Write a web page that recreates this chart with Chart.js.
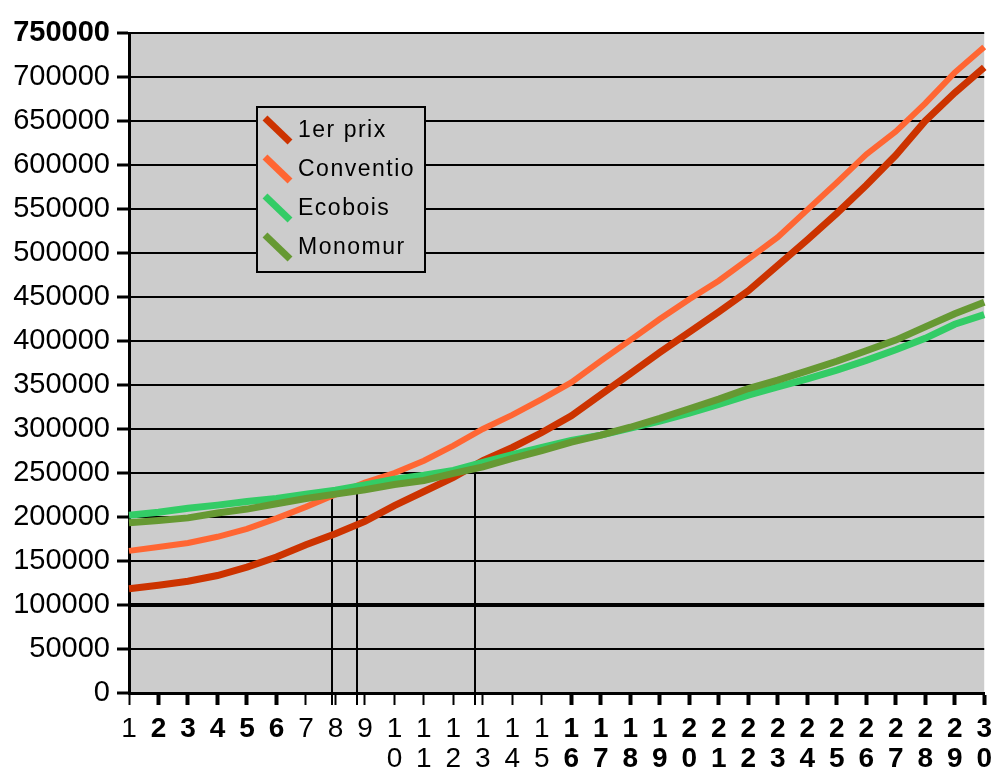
<!DOCTYPE html>
<html>
<head>
<meta charset="utf-8">
<title>Coût cumulé</title>
<script src="https://cdn.jsdelivr.net/npm/chart.js@4.4.1/dist/chart.umd.min.js"></script>
<style>
  html, body { margin: 0; padding: 0; background: #ffffff; }
  canvas { display: block; }
</style>
</head>
<body>
<canvas id="chart" width="1001" height="773"></canvas>
<script>
// Years on the horizontal axis
const years = [1, 2, 3, 4, 5, 6, 7, 8, 9, 10, 11, 12, 13, 14, 15,
               16, 17, 18, 19, 20, 21, 22, 23, 24, 25, 26, 27, 28, 29, 30];

// Tick labels: multi-digit years are stacked one digit per line
const yearTickLabels = years.map(y => String(y).split(''));

// Series names
const seriesNames = ['1er prix', 'Conventio', 'Ecobois', 'Monomur'];

// Cumulated cost per year for each construction type
const premierPrix = [118500, 122500, 127000, 133500, 143000, 154500, 168500, 181000, 195000, 213000,
                     229000, 245000, 264000, 279000, 296000, 315000, 339000, 363000, 387000, 410000,
                     433000, 457000, 486000, 515000, 545000, 577000, 611000, 650000, 682000, 711000];
const conventio   = [161500, 166000, 170500, 177500, 186500, 198500, 211500, 225500, 239000, 250000,
                     264000, 281000, 300000, 316000, 334000, 353000, 377500, 401000, 425000, 447500,
                     468500, 493000, 518000, 549000, 580000, 612000, 638000, 670000, 705000, 734000];
const ecobois     = [202000, 205500, 210000, 213500, 217500, 221000, 226000, 230500, 236500, 243000,
                     247500, 253000, 262000, 271000, 279000, 287000, 293000, 301000, 309000, 318000,
                     328000, 338500, 348000, 357000, 367000, 378000, 390000, 403000, 419000, 430000];
const monomur     = [193500, 196000, 199000, 204500, 209000, 215000, 221000, 226000, 231000, 237000,
                     241500, 249500, 257000, 266500, 275500, 285000, 293000, 302000, 312000, 323000,
                     334000, 346000, 355500, 366000, 377000, 389000, 401000, 416000, 431000, 444000];

// Break-even markers: position along the year axis and height where the curves meet
const crossingYears  = [7.88, 8.73, 12.74];
const crossingValues = [223000, 238000, 258000];

// Value axis tick settings
const yMin = 0, yMax = 750000, yStep = 50000;
const emphasisLevel = 100000;

// Years whose tick labels are printed in bold
const boldYears = [2, 3, 4, 5, 6, 16, 17, 18, 19, 20, 21, 22, 23, 24, 25, 26, 27, 28, 29, 30];

const FONT = '"Liberation Sans", Arial, sans-serif';

// Grey plot background
const plotBackground = {
  id: 'plotBackground',
  beforeDraw(chart) {
    const { ctx, chartArea: a } = chart;
    ctx.save();
    ctx.fillStyle = '#ffffff';
    ctx.fillRect(0, 0, chart.width, chart.height);
    ctx.fillStyle = '#cccccc';
    ctx.fillRect(a.left, a.top, a.right - a.left, a.bottom - a.top);
    ctx.restore();
  }
};

// Vertical drop lines from the crossing points down through the axis
const crossingLines = {
  id: 'crossingLines',
  beforeDatasetsDraw(chart) {
    const { ctx, chartArea: a, scales: { x, y } } = chart;
    ctx.save();
    ctx.strokeStyle = '#000000';
    ctx.lineWidth = 2;
    crossingYears.forEach((yr, i) => {
      const px = Math.round(x.getPixelForValue(yr - 1));
      const top = y.getPixelForValue(crossingValues[i]);
      ctx.beginPath();
      ctx.moveTo(px, top);
      ctx.lineTo(px, a.bottom + 12);
      ctx.stroke();
    });
    ctx.restore();
  }
};

// Boxed legend placed inside the plot area
const boxedLegend = {
  id: 'boxedLegend',
  afterDatasetsDraw(chart) {
    const { ctx } = chart;
    const left = 257, top = 107, width = 168, height = 165;
    const rowTop = 130, rowStep = 39;
    ctx.save();
    ctx.fillStyle = '#cccccc';
    ctx.fillRect(left, top, width, height);
    ctx.strokeStyle = '#000000';
    ctx.lineWidth = 2;
    ctx.strokeRect(left, top, width, height);
    chart.data.datasets.forEach((ds, i) => {
      const cy = rowTop + i * rowStep;
      ctx.strokeStyle = ds.borderColor;
      ctx.lineWidth = 7;
      ctx.lineCap = 'butt';
      ctx.beginPath();
      ctx.moveTo(265, cy - 12);
      ctx.lineTo(290, cy + 12);
      ctx.stroke();
      ctx.fillStyle = '#000000';
      ctx.font = '23px ' + FONT;
      ctx.textBaseline = 'middle';
      ctx.textAlign = 'left';
      if ('letterSpacing' in ctx) ctx.letterSpacing = '1.5px';
      ctx.fillText(ds.label, 298, cy + 1);
    });
    ctx.restore();
  }
};

const colors = ['#cc3300', '#ff6633', '#33cc66', '#669933'];
const widths = [7, 6, 7, 7];
const series = [premierPrix, conventio, ecobois, monomur];

new Chart(document.getElementById('chart'), {
  type: 'line',
  data: {
    labels: years,
    datasets: series.map((values, i) => ({
      label: seriesNames[i],
      data: values,
      borderColor: colors[i],
      backgroundColor: colors[i],
      borderWidth: widths[i],
      pointRadius: 0,
      tension: 0,
      fill: false,
      order: series.length - 1 - i
    }))
  },
  options: {
    responsive: false,
    animation: false,
    devicePixelRatio: 1,
    layout: { padding: { top: 33, right: 13, left: 0, bottom: 0 } },
    plugins: {
      legend: { display: false },
      tooltip: { enabled: false }
    },
    scales: {
      x: {
        type: 'category',
        offset: false,
        border: { color: '#000000', width: 3 },
        grid: {
          drawOnChartArea: false,
          drawTicks: true,
          tickLength: 12,
          tickColor: '#000000',
          tickWidth: c => boldYears.includes(years[c.index]) ? 4 : 2
        },
        ticks: {
          autoSkip: false,
          maxRotation: 0,
          minRotation: 0,
          padding: 9,
          color: '#000000',
          font: c => ({
            family: FONT,
            size: 28,
            lineHeight: 1.07,
            weight: boldYears.includes(years[c.index]) ? 'bold' : 'normal'
          }),
          callback: (v, i) => yearTickLabels[i]
        },
        afterFit: s => { s.height = 80; }
      },
      y: {
        min: yMin,
        max: yMax,
        border: { color: '#000000', width: 3 },
        grid: {
          color: '#000000',
          lineWidth: c => (c.tick && c.tick.value === emphasisLevel) ? 4 : 2,
          tickLength: 12,
          tickWidth: 3,
          tickColor: '#000000'
        },
        ticks: {
          stepSize: yStep,
          padding: 7,
          color: '#000000',
          font: c => ({
            family: FONT,
            size: 29,
            weight: (c.tick && c.tick.value === yMax) ? 'bold' : 'normal'
          }),
          callback: v => String(v)
        },
        afterFit: s => { s.width = 129; }
      }
    }
  },
  plugins: [plotBackground, crossingLines, boxedLegend]
});
</script>
</body>
</html>
